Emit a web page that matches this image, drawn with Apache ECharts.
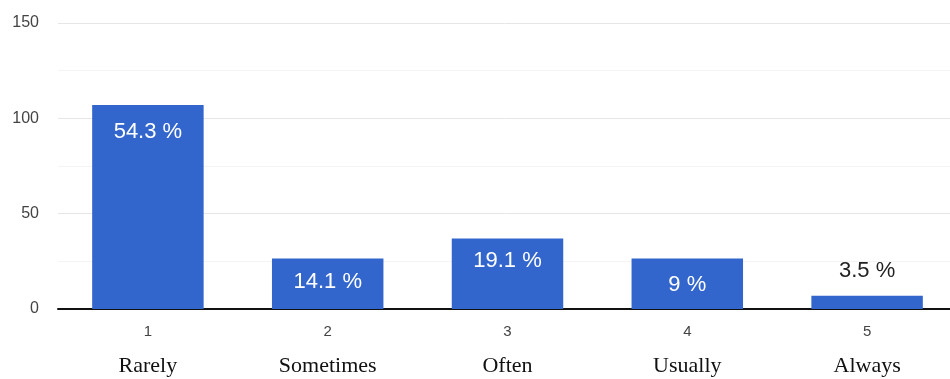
<!DOCTYPE html>
<html>
<head>
<meta charset="utf-8">
<script src="https://cdn.jsdelivr.net/npm/echarts@6/dist/echarts.min.js"></script>
<style>html,body{margin:0;padding:0;background:#fff}#c{width:950px;height:379px}</style>
</head>
<body>
<div id="c"></div>
<script>
const codes = ['1', '2', '3', '4', '5'];
const categories = ['Rarely', 'Sometimes', 'Often', 'Usually', 'Always'];
const counts = [107, 26.5, 37, 26.5, 7];
const percentLabels = ['54.3 %', '14.1 %', '19.1 %', '9 %', '3.5 %'];
const yTicks = [0, 50, 100, 150];

const labelDistances = [16, 12, 11, 15, 14];
const chart = echarts.init(document.getElementById('c'));
const data = counts.map((v, i) => {
  const inside = i < 4;
  return {
    value: v,
    label: {
      show: true,
      formatter: percentLabels[i],
      position: inside ? 'insideTop' : 'top',
      distance: labelDistances[i],
      color: inside ? '#ffffff' : '#222222',
      fontSize: 22,
      fontFamily: 'Arial, "Liberation Sans", sans-serif'
    }
  };
});
chart.setOption({
  animation: false,
  grid: { left: 58, right: -7, top: 23, bottom: 70, containLabel: false, outerBoundsMode: 'none' },
  xAxis: {
    type: 'category',
    data: codes,
    axisLine: { lineStyle: { color: '#111', width: 2 } },
    axisTick: { show: false },
    axisLabel: {
      margin: 12,
      formatter: (v, i) => '{a|' + v + '}\n{b|' + categories[i] + '}',
      rich: {
        a: { fontSize: 15, color: '#444', fontFamily: 'Arial, "Liberation Sans", sans-serif', lineHeight: 22 },
        b: { fontSize: 22, color: '#111', fontFamily: '"Liberation Serif", "Times New Roman", serif', lineHeight: 34, verticalAlign: 'bottom' }
      }
    }
  },
  yAxis: {
    type: 'value',
    min: yTicks[0],
    max: yTicks[yTicks.length - 1],
    interval: 50,
    axisLine: { show: false },
    axisTick: { show: false },
    axisLabel: { margin: 19, fontSize: 16, color: '#444', fontFamily: 'Arial, "Liberation Sans", sans-serif' },
    splitLine: { lineStyle: { color: '#e6e6e6' } },
    minorTick: { show: false, splitNumber: 2 },
    minorSplitLine: { show: true, lineStyle: { color: '#f4f4f4' } }
  },
  series: [{
    type: 'bar',
    data: data,
    barCategoryGap: '38%',
    itemStyle: { color: '#3366cc' }
  }]
});
</script>
</body>
</html>
